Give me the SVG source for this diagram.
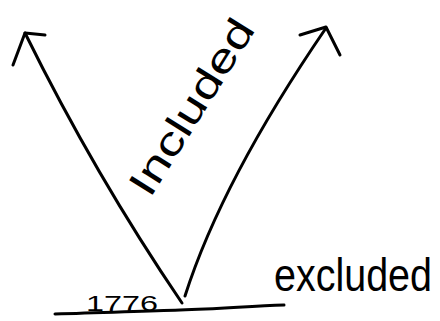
<svg xmlns="http://www.w3.org/2000/svg" width="440" height="321" viewBox="0 0 440 321">
<style>
.ln{fill:none;stroke:#000;stroke-width:3;stroke-linecap:round;stroke-linejoin:round}
.t{font-family:"Liberation Sans",Arial,sans-serif;fill:#000}
</style>
<rect width="440" height="321" fill="#fff"/>
<g id="connectors">
<path class="ln" d="M182,303 Q95,175 25,33"/>
<path class="ln" d="M13,65 L25,33 L45,35"/>
<path class="ln" d="M185,296 Q222,180 326,28"/>
<path class="ln" d="M300,35 L326,27 L340,55"/>
<path class="ln" d="M55,314 C100,313 140,311 180,310 C220,309 250,306 284,305"/>
</g>
<g id="included">
<text class="t" x="0" y="0" font-size="40" textLength="200" lengthAdjust="spacingAndGlyphs" transform="translate(150,199) rotate(-58)">Included</text>
</g>
<g id="excluded">
<text class="t" x="0" y="0" font-size="40" textLength="158" lengthAdjust="spacingAndGlyphs" transform="translate(274,291) scale(1,1.15)">excluded</text>
</g>
<g id="year">
<text class="t" x="86" y="311" font-size="22" textLength="72" lengthAdjust="spacingAndGlyphs">1776</text>
</g>
</svg>
